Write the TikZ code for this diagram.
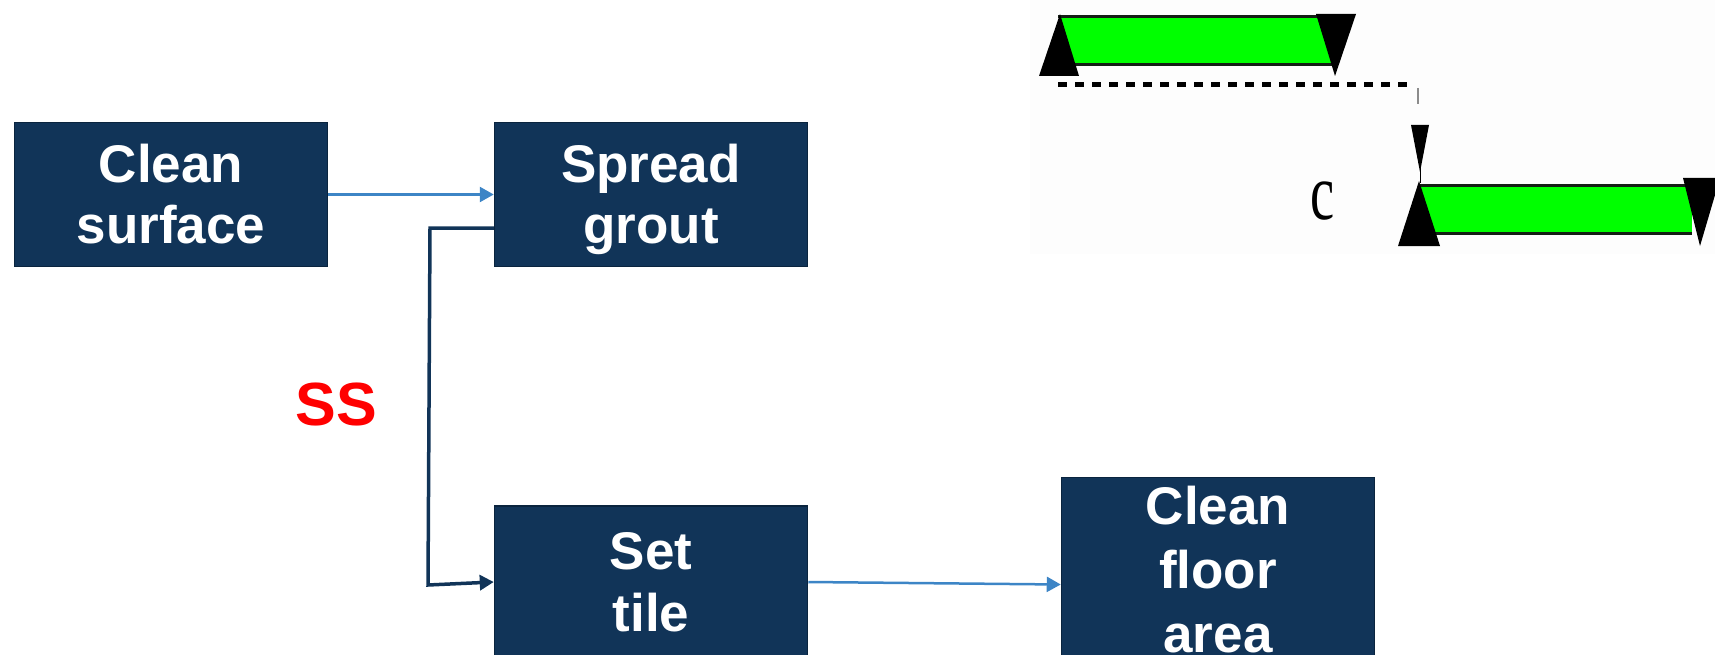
\documentclass[tikz,border=0pt]{standalone}
\usepackage{fontspec}
\setmainfont{Liberation Sans}
\newfontfamily\timesfam{Liberation Serif}
\usetikzlibrary{arrows.meta,calc}
\definecolor{navy}{RGB}{17,52,88}
\definecolor{navyedge}{RGB}{10,36,62}
\definecolor{linkblue}{RGB}{61,133,198}
\definecolor{ssred}{RGB}{255,0,0}
\definecolor{bargreen}{RGB}{0,255,0}
\definecolor{bardark}{RGB}{20,30,20}
\definecolor{panel}{RGB}{253,253,253}
\newcommand\topline[1]{\rule{0pt}{37pt}\smash{#1}}
\newcommand\flatline[1]{\smash{#1}}
\begin{document}
\begin{tikzpicture}[x=1pt,y=-1pt,
  taskbox/.style={draw=navyedge, line width=1.5pt, fill=navy, text=white,
    font=\fontsize{53}{60}\selectfont\bfseries, align=center,
    minimum width=313pt, inner sep=0pt},
  flow/.style={draw=linkblue, line width=2.5pt, -{Triangle[length=14pt,width=15pt]}},
  ssflow/.style={draw=navy, line width=3.5pt, -{Triangle[length=14pt,width=15pt]}},
  sslabel/.style={text=ssred, font=\fontsize{61}{70}\selectfont\bfseries, inner sep=0pt, anchor=base},
  gantttri/.style={fill=black},
  ganttbar/.style={fill=bargreen},
  ganttedge/.style={draw=bardark, line width=3pt},
]
\useasboundingbox (0,0) rectangle (1715,655);

% ---- flow chart boxes ----
\node[taskbox, minimum height=144pt] (cs) at (171,194.5) {\topline{Clean}\\\flatline{surface}};
\node[taskbox, minimum height=144pt] (sg) at (651,194.5) {\topline{Spread}\\\flatline{grout}};
\node[taskbox, minimum height=152pt, font=\fontsize{53}{62}\selectfont\bfseries] (st) at (651,582) {\topline{Set}\\\flatline{tile}};
\node[taskbox, minimum height=184pt, font=\fontsize{53}{64}\selectfont\bfseries] (cfa) at (1218,569.5) {\topline{Clean}\\\flatline{floor}\\\flatline{area}};

% ---- connectors ----
\coordinate (ssA) at (430,228);
\coordinate (ssB) at (428,585);
\draw[flow] (cs.east) -- (sg.west);
\draw[ssflow] (sg.west |- ssA) -- (ssA) -- (ssB) -- (st.west);
\draw[flow] (st.east) -- ([yshift=-15pt]cfa.west);

\node[sslabel] (ss) at (336,425) {SS};

% ---- start-to-start sketch (top right) ----
\fill[panel] (1030,0) rectangle (1715,254);
% upper bar
\fill[ganttbar] (1060,16) rectangle (1332,65);
\draw[ganttedge] (1058,16.5) -- (1336,16.5);
\draw[ganttedge] (1062,64.5) -- (1332,64.5);
\fill[gantttri] (1060,14) -- (1079,76) -- (1039,76) -- cycle;
\fill[gantttri] (1316,14) -- (1356,14) -- (1335,76) -- cycle;
\draw[line width=5pt, dash pattern=on 9pt off 8pt] (1058,85) -- (1412,85);
\draw[line width=1.2pt, black!45] (1418,88) -- (1418,104);
% lag arrow
\fill[gantttri] (1411,125) -- (1429,125) -- (1420,172) -- cycle;
\draw[line width=1pt] (1420,168) -- (1420,183);
\node[font=\timesfam\fontsize{80}{80}\selectfont, xscale=0.68, inner sep=0pt, anchor=base] (lag) at (1322.5,219) {c};
% lower bar
\fill[ganttbar] (1420,185) rectangle (1692,234);
\draw[ganttedge] (1420,185.5) -- (1692,185.5);
\draw[ganttedge] (1424,233.5) -- (1692,233.5);
\fill[gantttri] (1419,181) -- (1440,246) -- (1398,246) -- cycle;
\fill[gantttri] (1683,178) -- (1720,178) -- (1700,246) -- cycle;
\end{tikzpicture}
\end{document}
